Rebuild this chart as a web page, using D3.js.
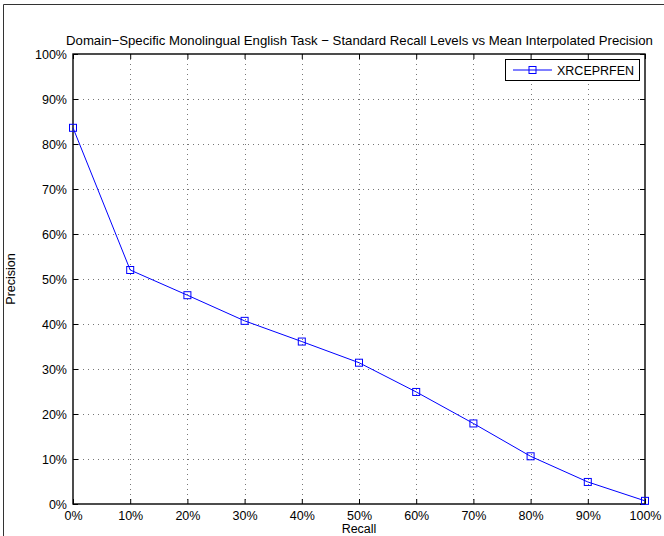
<!DOCTYPE html>
<html>
<head>
<meta charset="utf-8">
<script src="https://cdn.jsdelivr.net/npm/d3@7"></script>
<style>
  html, body { margin: 0; padding: 0; background: #fff; }
  svg { display: block; font-family: "Liberation Sans", Arial, sans-serif; }
</style>
</head>
<body>
<svg id="chart" width="664" height="536"></svg>
<script>
// Standard recall levels (fraction) and mean interpolated precision (%)
const recallLevels = [0, 0.1, 0.2, 0.3, 0.4, 0.5, 0.6, 0.7, 0.8, 0.9, 1.0];
const precisionValues = [83.6, 52.0, 46.4, 40.7, 36.1, 31.4, 24.9, 17.9, 10.6, 4.9, 0.7];
const seriesName = "XRCEPRFEN";
const xTickValues = [0, 0.1, 0.2, 0.3, 0.4, 0.5, 0.6, 0.7, 0.8, 0.9, 1.0];
const yTickValues = [0, 10, 20, 30, 40, 50, 60, 70, 80, 90, 100];
const titleText = "Domain\u2212Specific Monolingual English Task \u2212 Standard Recall Levels vs Mean Interpolated Precision";

const svg = d3.select("#chart");
const W = 664, H = 536;
const plot = { left: 73, right: 645, top: 54, bottom: 504 };
const FS = 12.5;

// Outer figure frame
svg.append("line").attr("x1", 3.5).attr("x2", W).attr("y1", 4.5).attr("y2", 4.5)
  .attr("stroke", "#333").attr("stroke-width", 1);
svg.append("line").attr("x1", 3.5).attr("x2", 3.5).attr("y1", 4.5).attr("y2", H)
  .attr("stroke", "#333").attr("stroke-width", 1);

const x = d3.scaleLinear().domain([0, 1]).range([plot.left, plot.right]);
const y = d3.scaleLinear().domain([0, 100]).range([plot.bottom, plot.top]);

const g = svg.append("g");

// Dotted grid
g.append("g").selectAll("line").data(xTickValues.slice(1, -1)).join("line")
  .attr("x1", d => Math.round(x(d)) + 0.5).attr("x2", d => Math.round(x(d)) + 0.5)
  .attr("y1", plot.top).attr("y2", plot.bottom)
  .attr("stroke", "#777").attr("stroke-width", 1).attr("stroke-dasharray", "1,4");
g.append("g").selectAll("line").data(yTickValues.slice(1, -1)).join("line")
  .attr("y1", d => Math.round(y(d)) + 0.5).attr("y2", d => Math.round(y(d)) + 0.5)
  .attr("x1", plot.left).attr("x2", plot.right)
  .attr("stroke", "#777").attr("stroke-width", 1).attr("stroke-dasharray", "1,4");

// Axes with inward ticks on all four sides
const fmtX = d => Math.round(d * 100) + "%";
const fmtY = d => d + "%";

const axB = g.append("g").attr("transform", `translate(0,${plot.bottom})`)
  .call(d3.axisBottom(x).tickValues(xTickValues).tickFormat(fmtX).tickSizeInner(-5).tickSizeOuter(0).tickPadding(7));
const axT = g.append("g").attr("transform", `translate(0,${plot.top})`)
  .call(d3.axisTop(x).tickValues(xTickValues).tickFormat("").tickSizeInner(-5).tickSizeOuter(0));
const axL = g.append("g").attr("transform", `translate(${plot.left},0)`)
  .call(d3.axisLeft(y).tickValues(yTickValues).tickFormat(fmtY).tickSizeInner(-5).tickSizeOuter(0).tickPadding(6));
const axR = g.append("g").attr("transform", `translate(${plot.right},0)`)
  .call(d3.axisRight(y).tickValues(yTickValues).tickFormat("").tickSizeInner(-5).tickSizeOuter(0));

[axB, axT, axL, axR].forEach(a => {
  a.select(".domain").remove();
  a.selectAll(".tick line").attr("stroke", "#000");
  a.selectAll("text").attr("font-size", FS).attr("fill", "#000")
    .attr("font-family", "'Liberation Sans', Arial, sans-serif");
});
axB.selectAll("text").attr("dy", "0.71em");

// Axes box
g.append("rect").attr("x", plot.left).attr("y", plot.top)
  .attr("width", plot.right - plot.left).attr("height", plot.bottom - plot.top)
  .attr("fill", "none").attr("stroke", "#000").attr("stroke-width", 1.4);

// Series line and square markers
const pts = recallLevels.map((r, i) => [r, precisionValues[i]]);
const line = d3.line().x(d => x(d[0])).y(d => y(d[1]));
g.append("path").datum(pts).attr("d", line)
  .attr("fill", "none").attr("stroke", "#0000ff").attr("stroke-width", 1);
g.append("g").selectAll("rect").data(pts).join("rect")
  .attr("x", d => x(d[0]) - 3.5).attr("y", d => y(d[1]) - 3.5)
  .attr("width", 7).attr("height", 7)
  .attr("fill", "none").attr("stroke", "#0000ff").attr("stroke-width", 1);

// Title and axis labels
svg.append("text").attr("x", (plot.left + plot.right) / 2 + 0.5).attr("y", 45)
  .attr("text-anchor", "middle").attr("font-size", 13.2).text(titleText);
svg.append("text").attr("x", (plot.left + plot.right) / 2).attr("y", 533)
  .attr("text-anchor", "middle").attr("font-size", FS).text("Recall");
svg.append("text").attr("transform", `translate(15,${(plot.top + plot.bottom) / 2}) rotate(-90)`)
  .attr("text-anchor", "middle").attr("font-size", FS).text("Precision");

// Legend
const lg = svg.append("g");
lg.append("rect").attr("x", 505.5).attr("y", 59.5).attr("width", 134).attr("height", 21)
  .attr("fill", "#fff").attr("stroke", "#000").attr("stroke-width", 1);
lg.append("line").attr("x1", 513).attr("x2", 552).attr("y1", 70).attr("y2", 70)
  .attr("stroke", "#0000ff").attr("stroke-width", 1);
lg.append("rect").attr("x", 529).attr("y", 66.5).attr("width", 7).attr("height", 7)
  .attr("fill", "none").attr("stroke", "#0000ff").attr("stroke-width", 1);
lg.append("text").attr("x", 557).attr("y", 74.5).attr("font-size", FS).text(seriesName);
</script>
</body>
</html>
